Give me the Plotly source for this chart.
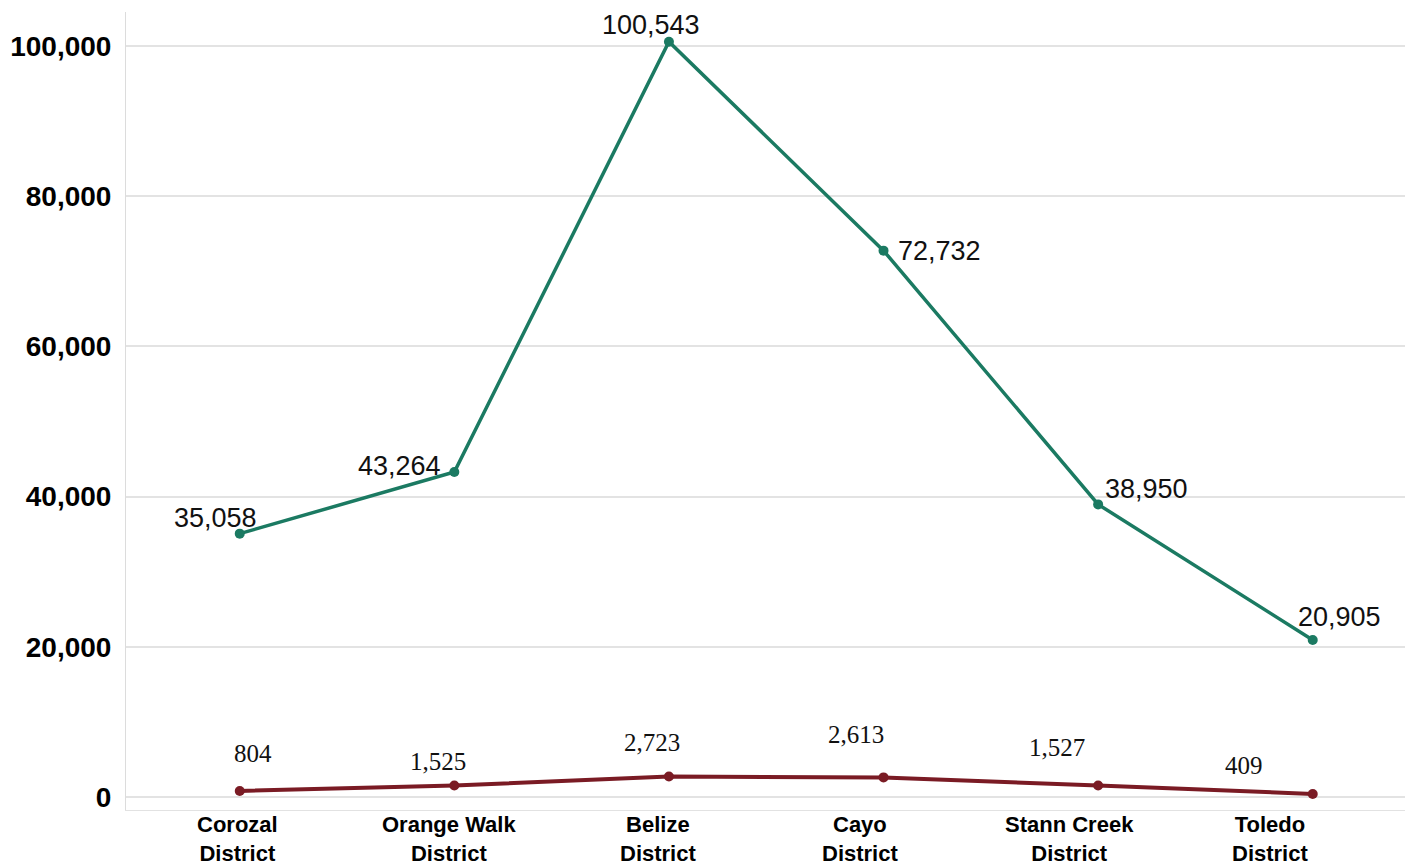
import plotly.graph_objects as go

districts = ["Corozal<br>District", "Orange Walk<br>District", "Belize<br>District",
             "Cayo<br>District", "Stann Creek<br>District", "Toledo<br>District"]
series_green = [35058, 43264, 100543, 72732, 38950, 20905]
series_red = [804, 1525, 2723, 2613, 1527, 409]
y_ticks = [0, 20000, 40000, 60000, 80000, 100000]

# label offsets (style)
green_shift = [(-24, 16), (-55, 6), (-18, 17), (56, 0), (48, 15), (27, 23)]
red_shift = [(13, 37), (-16, 24), (-17, 34), (-28, 43), (-41, 38), (-69, 28)]
cat_xshift = [-2, -5, -11, -24, -29, -43]

GREEN = "#1b7a62"
RED = "#7a1b24"

fig = go.Figure()
fig.add_trace(go.Scatter(x=districts, y=series_green, mode="lines+markers",
                         line=dict(color=GREEN, width=3.5),
                         marker=dict(color=GREEN, size=10), showlegend=False))
fig.add_trace(go.Scatter(x=districts, y=series_red, mode="lines+markers",
                         line=dict(color=RED, width=4),
                         marker=dict(color=RED, size=10), showlegend=False))

for i, v in enumerate(series_green):
    fig.add_annotation(x=districts[i], y=v, text=f"{v:,}", showarrow=False,
                       xshift=green_shift[i][0], yshift=green_shift[i][1],
                       font=dict(family="Arial, Liberation Sans", size=27, color="#111111"))
for i, v in enumerate(series_red):
    fig.add_annotation(x=districts[i], y=v, text=f"{v:,}", showarrow=False,
                       xshift=red_shift[i][0], yshift=red_shift[i][1],
                       font=dict(family="Liberation Serif, Times New Roman", size=25, color="#111111"))

# category labels below the axis
for i, d in enumerate(districts):
    fig.add_annotation(x=d, y=0, xref="x", yref="paper", yanchor="top",
                       text="<b>" + d.replace("<br>", "</b><br><b>") + "</b>",
                       showarrow=False, xshift=cat_xshift[i], yshift=0,
                       font=dict(family="Arial, Liberation Sans", size=22, color="black"))

fig.update_layout(
    width=1405, height=868,
    margin=dict(l=126, r=0, t=12, b=58),
    paper_bgcolor="white", plot_bgcolor="white",
)
fig.update_xaxes(range=[-0.53, 5.43], showgrid=False, showline=True, linecolor="#e2e2e2",
                 linewidth=1, ticks="", automargin=False, showticklabels=False)
fig.update_yaxes(range=[-1730, 104500], tickvals=y_ticks,
                 ticktext=[f"<b>{t:,}</b>" for t in y_ticks],
                 showgrid=True, gridcolor="#e3e3e3", gridwidth=2,
                 showline=True, linecolor="#dcdcdc", linewidth=1,
                 zeroline=False, ticks="", automargin=False, ticklabelstandoff=8,
                 tickfont=dict(family="Arial, Liberation Sans", size=28, color="black"))

fig.write_html("out.html")
